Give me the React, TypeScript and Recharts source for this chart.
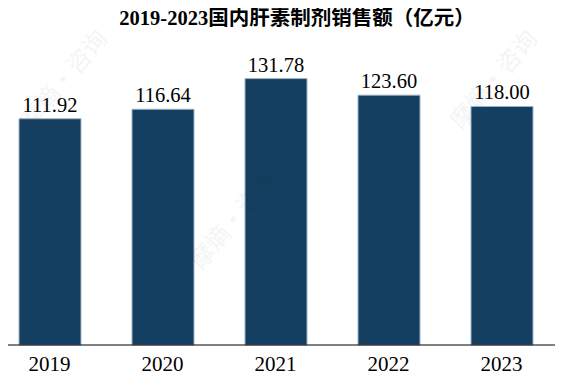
import React from 'react';
import { BarChart, Bar, XAxis, YAxis, LabelList } from 'recharts';

const years = ['2019', '2020', '2021', '2022', '2023'];
const sales = [111.92, 116.64, 131.78, 123.6, 118.0];
const title = '2019-2023国内肝素制剂销售额（亿元）';
const watermarkText = '摩熵·咨询';

const data = years.map((y, i) => ({ year: y, value: sales[i] }));

const serif = "'Liberation Serif', 'Times New Roman', serif";

const Tick = (props: any) => {
  const { x, y, payload } = props;
  return (
    <text x={x} y={y + 26} textAnchor="middle" fontFamily={serif} fontSize={21} fill="#000">
      {payload.value}
    </text>
  );
};

const marks = [
  { x: 70, y: 85 },
  { x: 240, y: 225 },
  { x: 500, y: 85 },
];

export default function App() {
  return (
    <div style={{ position: 'relative', margin: '-8px 0 0 -8px', width: 563, height: 376, overflow: 'hidden', background: '#fff' }}>
      <div style={{ position: 'absolute', left: -7, top: 0 }}>
        <BarChart width={570} height={376} data={data} margin={{ top: 62, right: 5, bottom: 0, left: 0 }}>
          <XAxis
            dataKey="year"
            height={31}
            tickSize={0}
            tickMargin={0}
            tickLine={false}
            axisLine={{ stroke: '#000', strokeWidth: 1 }}
            tick={<Tick />}
            interval={0}
          />
          <YAxis hide domain={[0, 140]} />
          <Bar dataKey="value" fill="#153f60" stroke="#9fb3c8" strokeWidth={1} barSize={62} isAnimationActive={false}>
            <LabelList
              dataKey="value"
              position="top"
              offset={7}
              formatter={(v: any) => Number(v).toFixed(2)}
              style={{ fontFamily: serif, fontSize: 20.5, fill: '#000' }}
            />
          </Bar>
        </BarChart>
      </div>
      <svg width={563} height={376} style={{ position: 'absolute', left: 0, top: 0, pointerEvents: 'none' }}>
        <text
          x={297}
          y={25}
          textAnchor="middle"
          fontFamily="'Liberation Serif', 'Noto Sans CJK SC', serif"
          fontWeight="bold"
          fontSize={20.5}
          fill="#000"
        >
          {title}
        </text>
        {marks.map((m, i) => (
          <text
            key={i}
            x={m.x}
            y={m.y}
            textAnchor="middle"
            fontFamily="'Noto Sans CJK SC', sans-serif"
            fontSize={24}
            fill="#000"
            opacity={0.04}
            transform={`rotate(-50 ${m.x} ${m.y})`}
          >
            {watermarkText}
          </text>
        ))}
      </svg>
    </div>
  );
}
